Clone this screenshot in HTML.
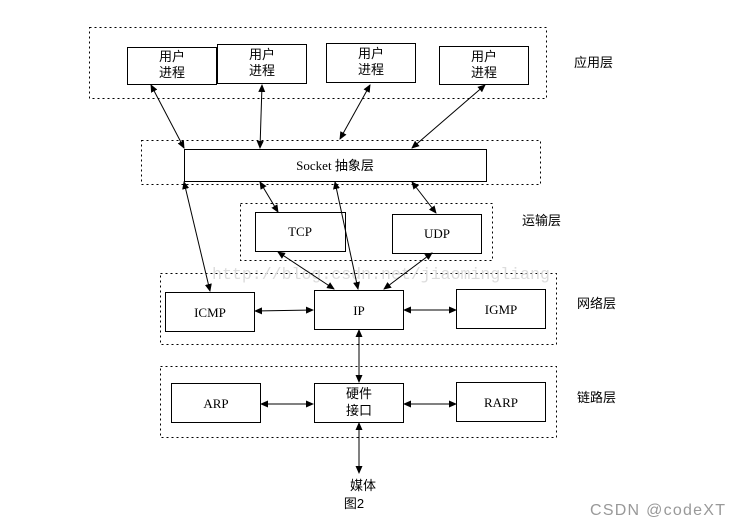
<!DOCTYPE html><html><head><meta charset="utf-8"><style>
body{margin:0;background:#fff;}
svg text{font-family:"Liberation Serif","Noto Serif CJK SC",serif;font-size:13px;fill:#000;}
.c{font-family:"Liberation Sans","Noto Sans CJK SC",sans-serif;}
</style></head><body>
<svg width="741" height="525" xmlns="http://www.w3.org/2000/svg">
<defs><marker id="a" markerWidth="8" markerHeight="8" refX="7" refY="4" orient="auto-start-reverse" markerUnits="userSpaceOnUse"><path d="M0,0.5 L8,4 L0,7.5z" fill="#000"/></marker></defs>
<g fill="none" stroke="#000" stroke-width="1" stroke-dasharray="2,3">
<rect x="89.5" y="27.5" width="457" height="71"/>
<rect x="141.5" y="140.5" width="399" height="44"/>
<rect x="240.5" y="203.5" width="252" height="57"/>
<rect x="160.5" y="273.5" width="396" height="71"/>
<rect x="160.5" y="366.5" width="396" height="71"/>
</g>
<text x="212" y="279" textLength="338" lengthAdjust="spacingAndGlyphs" style="fill:#dcdcdc;font-size:17px;font-family:'Liberation Mono',monospace">http://blog.csdn.net/jiaomingliang</text>
<g fill="#fff" stroke="#000">
<rect x="127.5" y="47.5" width="89" height="37"/>
<rect x="217.5" y="44.5" width="89" height="39"/>
<rect x="326.5" y="43.5" width="89" height="39"/>
<rect x="439.5" y="46.5" width="89" height="38"/>
<rect x="184.5" y="149.5" width="302" height="32"/>
<rect x="255.5" y="212.5" width="90" height="39"/>
<rect x="392.5" y="214.5" width="89" height="39"/>
<rect x="165.5" y="292.5" width="89" height="39"/>
<rect x="314.5" y="290.5" width="89" height="39"/>
<rect x="456.5" y="289.5" width="89" height="39"/>
<rect x="171.5" y="383.5" width="89" height="39"/>
<rect x="314.5" y="383.5" width="89" height="39"/>
<rect x="456.5" y="382.5" width="89" height="39"/>
</g>
<g stroke="#000" stroke-width="1" marker-start="url(#a)" marker-end="url(#a)">
<line x1="151" y1="85" x2="184" y2="148"/>
<line x1="262" y1="85" x2="260" y2="148"/>
<line x1="370" y1="85" x2="340" y2="139"/>
<line x1="485" y1="85" x2="412" y2="148"/>
<line x1="184" y1="182" x2="210" y2="291"/>
<line x1="260" y1="182" x2="278" y2="212"/>
<line x1="335" y1="182" x2="358" y2="289"/>
<line x1="412" y1="182" x2="436" y2="213"/>
<line x1="278" y1="252" x2="334" y2="289"/>
<line x1="432" y1="253" x2="384" y2="289"/>
<line x1="255" y1="311" x2="313" y2="310"/>
<line x1="404" y1="310" x2="456" y2="310"/>
<line x1="359" y1="330" x2="359" y2="382"/>
<line x1="261" y1="404" x2="313" y2="404"/>
<line x1="404" y1="404" x2="456" y2="404"/>
<line x1="359" y1="423" x2="359" y2="473"/>
</g>
<g text-anchor="middle">
<text x="172" y="61" class="c">用户</text><text x="172" y="77" class="c">进程</text>
<text x="262" y="59" class="c">用户</text><text x="262" y="75" class="c">进程</text>
<text x="371" y="58" class="c">用户</text><text x="371" y="74" class="c">进程</text>
<text x="484" y="61" class="c">用户</text><text x="484" y="77" class="c">进程</text>
<text x="335" y="170">Socket <tspan class="c">抽象层</tspan></text>
<text x="300" y="236">TCP</text>
<text x="437" y="238">UDP</text>
<text x="210" y="317">ICMP</text>
<text x="359" y="315">IP</text>
<text x="501" y="314">IGMP</text>
<text x="216" y="408">ARP</text>
<text x="359" y="398" class="c">硬件</text><text x="359" y="415" class="c">接口</text>
<text x="501" y="407">RARP</text>
<text x="363" y="490" class="c">媒体</text>
<text x="354" y="508" class="c">图2</text>
</g>
<text x="574" y="67" class="c">应用层</text>
<text x="522" y="225" class="c">运输层</text>
<text x="577" y="308" class="c">网络层</text>
<text x="577" y="402" class="c">链路层</text>
<text x="590" y="515" class="c" textLength="135" style="font-size:16px;fill:#999">CSDN @codeXT</text>
</svg>
</body></html>
